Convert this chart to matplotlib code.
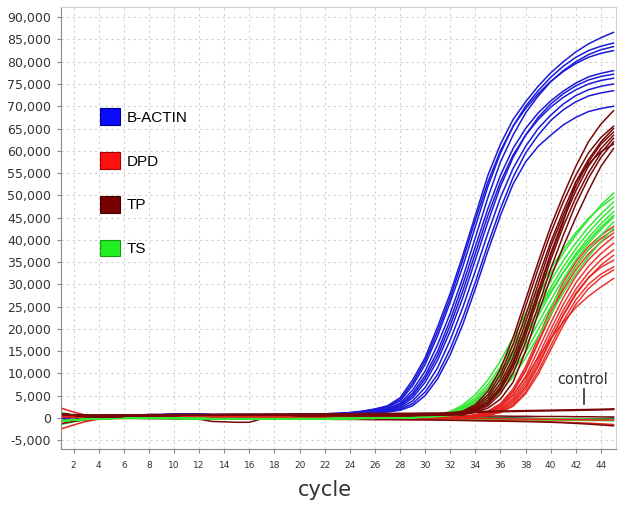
import numpy as np
import matplotlib
matplotlib.use('Agg')
import matplotlib.pyplot as plt
from matplotlib.patches import Patch
from matplotlib.ticker import FuncFormatter

# === DATA ===
cycles = np.arange(1, 46)

# B-ACTIN: shared baseline for cycles 1-21, then each curve for cycles 22-45
actin_base = [0, 150, 300, 450, 550, 600, 650, 700, 700, 750, 750, 750, 700, 700, 700,
              700, 700, 700, 700, 750, 800]
actin_curves = [
    [900, 1000, 1200, 1500, 2000, 2700, 4500, 8500, 13500, 20500, 28000, 36500, 45500, 54500,
     61500, 67000, 71000, 74500, 77500, 80000, 82200, 84000, 85400, 86600],
    [850, 950, 1100, 1400, 1800, 2400, 3800, 7200, 12000, 18500, 26000, 34000, 43000, 52000,
     59500, 65500, 70000, 73500, 76500, 79000, 81000, 82500, 83500, 84200],
    [850, 900, 1000, 1300, 1600, 2100, 3300, 6200, 10500, 16500, 23500, 31500, 40500, 49500,
     57500, 63500, 68500, 72300, 75500, 78000, 80000, 81600, 82700, 83400],
    [900, 1000, 1150, 1450, 1900, 2500, 4100, 7800, 12800, 19500, 27000, 35500, 44500, 53000,
     60000, 65500, 69500, 72800, 75600, 77800, 79600, 81000, 81900, 82500],
    [800, 900, 1000, 1200, 1500, 1900, 3000, 5500, 9500, 15000, 22000, 30000, 38500, 47000,
     54500, 60500, 65000, 68500, 71200, 73400, 75200, 76600, 77400, 78000],
    [800, 850, 950, 1100, 1350, 1700, 2500, 4500, 8000, 13000, 19500, 27000, 35500, 44000,
     52000, 58500, 63500, 67500, 70500, 72800, 74600, 75900, 76700, 77200],
    [800, 900, 1000, 1150, 1450, 1800, 2700, 5000, 8800, 14000, 20800, 28500, 37000, 45500,
     53000, 59000, 63500, 67000, 69800, 72000, 73700, 75000, 75800, 76300],
    [750, 850, 900, 1050, 1250, 1550, 2200, 3800, 6800, 11300, 17500, 24800, 33000, 41500,
     49500, 56000, 61000, 65000, 68000, 70500, 72400, 73700, 74500, 75000],
    [750, 800, 900, 1000, 1150, 1400, 1900, 3200, 5800, 9800, 15500, 22500, 30500, 39000,
     47000, 54000, 59500, 63500, 66800, 69200, 71000, 72300, 73000, 73500],
    [750, 800, 850, 950, 1100, 1300, 1700, 2700, 5000, 8800, 14200, 21000, 29000, 37500,
     45500, 52500, 57500, 61000, 63500, 65800, 67500, 68800, 69500, 70000],
]

# TP: baseline cycles 1-29, curves cycles 30-45
tp_base = [900, 600, 300, 150, 250, 350, 450, 500, 550, 550, 600, 600, 600, 600, 600,
           600, 600, 600, 600, 550, 550, 550, 550, 550, 550, 550, 550, 550, 550]
tp_curves = [
    [700, 800, 1000, 1500, 3000, 6000, 11000, 18000, 26500, 35000, 43000, 50000, 56500, 62000, 66000, 69000],
    [700, 750, 900, 1300, 2600, 5200, 9800, 16500, 25000, 33500, 41500, 48500, 54500, 59500, 63000, 65500],
    [650, 700, 850, 1200, 2300, 4600, 8800, 15000, 23000, 31500, 39500, 46500, 53000, 58000, 62000, 65000],
    [650, 700, 800, 1100, 2000, 4000, 7800, 13500, 21500, 30000, 38500, 45500, 52000, 57500, 61500, 64200],
    [600, 650, 750, 1000, 1800, 3500, 7000, 12500, 20000, 28500, 37000, 44500, 51000, 56500, 60500, 63500],
    [600, 650, 750, 950, 1600, 3100, 6200, 11200, 18500, 27000, 35500, 43000, 49500, 55000, 59500, 62800],
    [550, 600, 700, 900, 1400, 2700, 5400, 10000, 17000, 25000, 33500, 41000, 48000, 53800, 58500, 62000],
    [550, 600, 650, 700, 1200, 2200, 4200, 8000, 15000, 23500, 31500, 38500, 45000, 51000, 56500, 60500],
    [600, 650, 700, 900, 1700, 3300, 6600, 12000, 19500, 28000, 36500, 44000, 53000, 57000, 59800, 61500],
]

# TS: baseline cycles 1-29, curves cycles 30-45
ts_base = [-700, -500, -300, -200, -100, -50, 0, -50, -100, -100, -150, -150, -200, -200, -200,
           -200, -200, -200, -200, -200, -200, -200, -150, -150, -100, -100, -50, 0, 50]
ts_curves = [
    [300, 700, 1200, 2500, 4500, 7500, 11500, 16500, 22000, 27500, 32500, 37000, 41000, 44500, 47800, 50500],
    [300, 600, 1100, 2200, 4000, 6800, 10500, 15200, 20500, 25800, 30800, 35300, 39300, 42800, 45800, 48500],
    [250, 500, 900, 1800, 3400, 6000, 9500, 14000, 19000, 24300, 29300, 33900, 38000, 41600, 44700, 47400],
    [250, 450, 800, 1500, 2900, 5200, 8500, 12800, 17700, 22900, 28000, 32700, 36900, 40500, 43600, 46300],
    [200, 400, 700, 1300, 2500, 4500, 7500, 11500, 16200, 21300, 26400, 31200, 35500, 39200, 42300, 45100],
    [200, 350, 600, 1100, 2100, 3900, 6600, 10300, 14800, 19800, 24900, 29700, 34000, 37800, 41000, 44000],
    [150, 300, 500, 900, 1800, 3400, 5800, 9200, 13500, 18300, 23300, 28100, 32400, 36200, 39600, 42600],
    [300, 700, 1400, 2900, 5200, 8500, 12800, 18000, 23500, 28800, 33500, 37800, 41600, 44800, 47400, 49500],
    [250, 500, 1000, 2000, 3800, 6500, 10000, 14500, 19300, 24000, 28500, 32600, 36400, 39800, 42800, 45500],
]

# DPD: baseline cycles 1-32, curves cycles 33-45
dpd_base = [300, 200, 150, 100, 150, 200, 250, 300, 300, 300, 300, 300, 300, 300, 300, 300,
            300, 300, 300, 300, 300, 300, 250, 250, 200, 200, 150, 150, 100, 100, 100, 100]
dpd_curves = [
    [300, 700, 1500, 3200, 6500, 11500, 18000, 24500, 30500, 35000, 38500, 41000, 43000],
    [250, 600, 1300, 2800, 5800, 10500, 16800, 23000, 28800, 33300, 36800, 39500, 41500],
    [200, 500, 1100, 2400, 5000, 9300, 15200, 21300, 27000, 31800, 35500, 38300, 40600],
    [200, 450, 1000, 2100, 4400, 8300, 13800, 19800, 25500, 30300, 34000, 36900, 39200],
    [150, 400, 900, 1900, 4000, 7600, 12800, 18600, 24200, 28900, 32600, 35500, 37700],
    [150, 350, 800, 1700, 3600, 7000, 12000, 17600, 23000, 27700, 31400, 34300, 36500],
    [100, 300, 700, 1500, 3200, 6500, 11500, 17500, 23200, 28000, 31500, 33800, 35400],
    [100, 250, 600, 1300, 2800, 5800, 10500, 16200, 21800, 26500, 30000, 32300, 33900],
    [100, 250, 550, 1200, 2600, 5400, 9800, 15300, 20800, 25500, 29000, 31500, 33200],
    [200, 500, 1200, 2600, 5200, 9000, 13500, 17800, 21500, 24800, 27300, 29400, 31300],
    [250, 650, 1400, 3000, 6000, 10800, 17000, 23500, 29500, 34200, 37800, 40300, 42200],
]

# flat traces (controls / no amplification), cycles 1-45
control_tp = [700, 650, 600, 600, 600, 600, 600, 650, 650, 700, 700, 700, 700, 750, 750,
              750, 750, 800, 800, 800, 800, 850, 850, 850, 900, 900, 900, 950, 950, 1000,
              1000, 1100, 1200, 1300, 1400, 1450, 1500, 1550, 1600, 1650, 1700, 1750, 1800, 1850, 1950]
flat_dpd_hi = [2200, 1300, 600, 200, 100, 100, 150, 200, 200, 250, 250, 250, 250, 250, 250,
               250, 250, 250, 250, 200, 200, 200, 200, 150, 150, 150, 100, 100, 50, 0,
               0, -50, -100, -100, -150, -200, -250, -300, -300, -350, -400, -400, -450, -500, -500]
flat_dpd_lo = [-2500, -1600, -800, -300, -150, -100, -50, -50, -100, -100, -150, -150, -200, -200, -200,
               -200, -200, -250, -250, -250, -300, -300, -300, -300, -350, -350, -350, -400, -400, -400,
               -450, -500, -500, -550, -600, -650, -700, -750, -800, -900, -1000, -1100, -1200, -1350, -1500]
flat_tp_hi = [1000, 500, 200, 100, 200, 300, 400, 500, 550, 600, 650, 700, 700, 700, 750,
              750, 750, 750, 700, 700, 700, 650, 650, 600, 600, 600, 550, 550, 500, 500,
              500, 450, 450, 400, 400, 400, 350, 350, 300, 300, 300, 250, 250, 200, 200]
flat_tp_lo = [-1300, -800, -400, -200, -100, -100, -100, -150, -150, -200, -250, -300, -800, -900, -1000,
              -1000, -200, -250, -250, -300, -300, -300, -350, -350, -350, -400, -400, -400, -450, -450,
              -500, -550, -600, -650, -700, -750, -800, -850, -900, -1000, -1100, -1250, -1400, -1600, -1800]
flat_ts_hi = [1200, 600, 200, 0, 0, 50, 100, 100, 50, 0, 0, 0, 0, 0, 0,
              0, 0, 0, 0, 0, 0, 0, 0, 0, 0, 0, 0, 0, 0, 0,
              0, 0, 0, -50, -100, -100, -150, -150, -200, -200, -250, -250, -300, -300, -300]
flat_ts_lo = [-1500, -900, -400, -200, -150, -150, -150, -200, -200, -200, -250, -250, -250, -250, -250,
              -250, -250, -250, -250, -250, -250, -250, -300, -300, -300, -300, -300, -300, -300, -300,
              -350, -350, -350, -400, -400, -400, -450, -450, -500, -500, -550, -550, -600, -600, -650]
flat_actin = [0, 150, 300, 400, 500, 550, 600, 650, 650, 650, 650, 650, 650, 600, 600,
              600, 600, 600, 550, 550, 500, 500, 450, 400, 400, 350, 300, 300, 250, 200,
              200, 150, 100, 100, 50, 0, -50, -100, -200, -300, -400, -500, -400, -300, 0]
flat_dark = [-600, -300, -100, 0, 100, 150, 200, 250, 250, 250, 250, 250, 250, 250, 250,
             250, 250, 250, 250, 250, 250, 250, 250, 250, 200, 200, 200, 150, 150, 100,
             100, 50, 50, 0, 0, -50, -100, -150, -200, -250, -300, -350, -300, -250, -200]

legend_labels = ['B-ACTIN', 'DPD', 'TP', 'TS']
control_label = 'control'
control_text_xy = (42.55, 8700)
control_tick_x = 42.65
control_tick_y = (3100, 6500)

# === STYLE ===
c_actin = '#1a1ad8'
c_dpd = '#e8201c'
c_tp = '#780808'
c_ts = '#33e833'
c_dark = '#202020'
lw = 1.1

fig = plt.figure(figsize=(6.24, 5.09), dpi=100)
ax = fig.add_axes([61 / 624, 1 - 449 / 509, 555 / 624, 442 / 509])

# flat traces first, then amplification curves
for vals, col in [(flat_actin, c_actin), (flat_dark, c_dark), (flat_ts_hi, c_ts), (flat_ts_lo, c_ts),
                  (flat_dpd_hi, c_dpd), (flat_dpd_lo, c_dpd), (flat_tp_hi, c_tp), (flat_tp_lo, c_tp)]:
    ax.plot(cycles, vals, color=col, lw=lw)

for curve in actin_curves:
    ax.plot(cycles, actin_base + curve, color=c_actin, lw=lw)
for curve in dpd_curves:
    ax.plot(cycles, dpd_base + curve, color=c_dpd, lw=lw, alpha=0.9)
for curve in ts_curves:
    ax.plot(cycles, ts_base + curve, color=c_ts, lw=lw)
for curve in tp_curves:
    ax.plot(cycles, tp_base + curve, color=c_tp, lw=lw)
ax.plot(cycles, control_tp, color=c_tp, lw=1.6)

# axes
ax.set_xlim(1, 45.2)
ax.set_ylim(-7000, 92300)
ax.set_xticks(np.arange(2, 46, 2))
ax.set_yticks(np.arange(-5000, 90001, 5000))
ax.yaxis.set_major_formatter(FuncFormatter(lambda v, p: f'{v:,.0f}'))
ax.tick_params(axis='y', labelsize=9, colors='#888888', labelcolor='#333333', length=3, pad=4)
ax.tick_params(axis='x', labelsize=6.5, colors='#888888', labelcolor='#333333', length=3, pad=6)
ax.grid(True, color='#cfcfcf', linestyle=(0, (2, 3)), linewidth=0.8)
ax.set_axisbelow(True)
for side in ['left', 'bottom']:
    ax.spines[side].set_color('#8a8a8a')
for side in ['top', 'right']:
    ax.spines[side].set_color('#d0d0d0')

# legend with square swatches
handles = [Patch(facecolor=c, edgecolor=e, linewidth=0.8)
           for c, e in [('#0a0aff', '#00008a'), ('#ff1010', '#a00000'),
                        ('#780000', '#400000'), ('#22ee22', '#10a010')]]
ax.legend(handles, legend_labels, loc='upper left', bbox_to_anchor=(0.057, 0.788),
          frameon=False, borderpad=0, handlelength=1.31, handleheight=1.31,
          labelspacing=1.77, handletextpad=0.4, prop={'family': 'Liberation Sans', 'size': 11})

# control annotation
ax.text(control_text_xy[0], control_text_xy[1], control_label, ha='center', va='center',
        fontsize=10.5, color='#333333')
ax.plot([control_tick_x, control_tick_x], control_tick_y, color='#333333', lw=1.2)

fig.text(325 / 624, 1 - 490 / 509, 'cycle', ha='center', va='center', fontsize=15, color='#333333')

plt.savefig('out.png', dpi=100)
plt.close()
